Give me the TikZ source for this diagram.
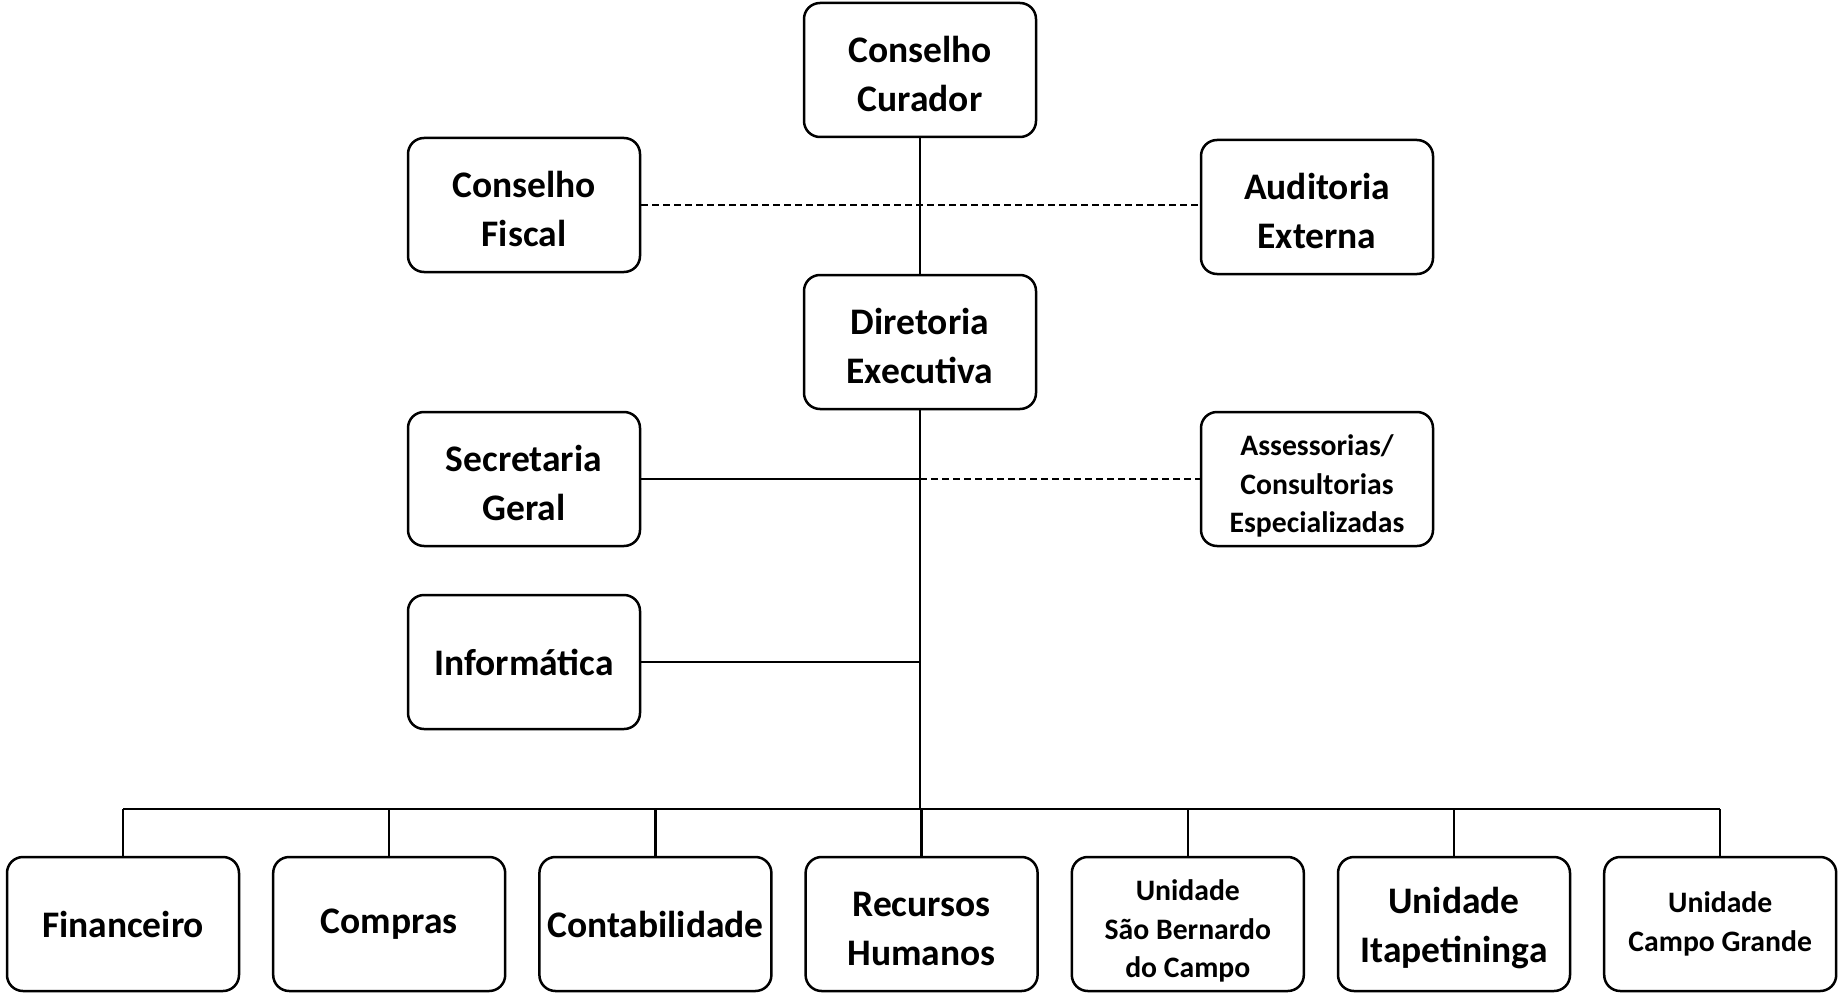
\documentclass[tikz,border=0pt]{standalone}
\usepackage{fontspec}
\setmainfont{Carlito}
\usepackage{tikz}
\usetikzlibrary{positioning}
\newcommand{\hi}{\rule{0pt}{0.9em}}
\newcommand{\shi}{\rule{0pt}{1.18em}}
\tikzstyle{block} = [rectangle, draw, line width=2.5pt, rounded corners=16pt,
    minimum width=232pt, minimum height=134pt, align=center, inner sep=2pt,
    font=\bfseries\fontsize{37.5}{49}\selectfont]
\tikzstyle{small} = [font=\bfseries\fontsize{29.7}{38.5}\selectfont]
\tikzstyle{line} = [draw, line width=2.5pt]
\tikzstyle{dline} = [draw, line width=2pt, dash pattern=on 7pt off 4pt]

\begin{document}
\begin{tikzpicture}[x=1pt, y=1pt, node distance=31.7pt]
    \useasboundingbox (0,0) rectangle (1838,-995);
    % Place nodes
    \node [block] (curador) at (920,-70) {\hi Conselho\\Curador};
    \node [block] (fiscal) at (524,-205) {\hi Conselho\\Fiscal};
    \node [block] (auditoria) at (1317,-207) {\hi Auditoria\\Externa};
    \node [block] (diretoria) at (920,-342) {\hi Diretoria\\Executiva};
    \node [block] (secretaria) at (524,-479) {\hi Secretaria\\Geral};
    \node [block, small] (assessorias) at (1317,-479) {\shi Assessorias/\\Consultorias\\Especializadas};
    \node [block] (informatica) at (524,-662) {Informática};
    \node [block] (financeiro) at (123,-924) {Financeiro};
    \node [block, right=of financeiro] (compras) {Compras};
    \node [block, right=of compras] (contabilidade) {Contabilidade};
    \node [block, right=of contabilidade] (rh) {\hi Recursos\\Humanos};
    \node [block, small, right=of rh] (saobernardo) {\shi Unidade\\São Bernardo\\do Campo};
    \node [block, right=of saobernardo] (itapetininga) {\hi Unidade\\Itapetininga};
    \node [block, small, right=of itapetininga] (campogrande) {Unidade\\Campo Grande};
    \coordinate (bus) at (diretoria.south |- 0,-809);
    % Draw edges
    \path [dline] (fiscal.east) -- (auditoria.west |- fiscal.east);
    \path [line] (curador) -- (diretoria);
    \path [line] (diretoria.south) -- (bus);
    \path [line] (secretaria.east) -- (secretaria.east -| diretoria.south);
    \path [dline] (secretaria.east -| diretoria.south) -- (assessorias.west);
    \path [line] (informatica.east) -- (informatica.east -| diretoria.south);
    \path [line] (financeiro.north |- bus) -- (campogrande.north |- bus);
    \foreach \n in {financeiro, compras, contabilidade, rh, saobernardo, itapetininga, campogrande}
        \path [line] (\n.north |- bus) -- (\n.north);
\end{tikzpicture}
\end{document}
